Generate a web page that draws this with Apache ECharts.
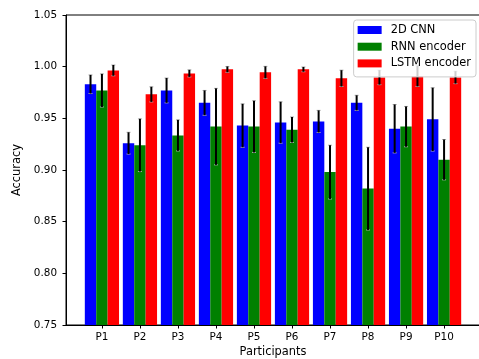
<!DOCTYPE html>
<html>
<head>
<meta charset="utf-8">
<script src="https://cdn.jsdelivr.net/npm/echarts@6/dist/echarts.min.js"></script>
<style>html,body{margin:0;padding:0;background:#fff}#c{width:479px;height:359px}</style>
</head>
<body>
<div id="c"></div>
<script>
const categories = ['P1','P2','P3','P4','P5','P6','P7','P8','P9','P10'];
const cnn     = [0.983, 0.926, 0.977, 0.965, 0.943, 0.946, 0.947, 0.965, 0.940, 0.949];
const cnnErr  = [0.009, 0.0105, 0.012, 0.012, 0.021, 0.020, 0.0107, 0.0073, 0.0234, 0.0306];
const rnn     = [0.977, 0.924, 0.9335, 0.942, 0.942, 0.939, 0.898, 0.882, 0.942, 0.910];
const rnnErr  = [0.016, 0.0255, 0.015, 0.037, 0.025, 0.0123, 0.026, 0.040, 0.0195, 0.0195];
const lstm    = [0.9964, 0.9732, 0.9935, 0.9974, 0.9945, 0.9974, 0.9887, 0.9896, 0.9909, 0.9896];
const lstmErr = [0.0052, 0.0073, 0.0034, 0.0028, 0.0058, 0.0023, 0.0079, 0.007, 0.010, 0.006];
const yTicks = [0.75, 0.80, 0.85, 0.90, 0.95, 1.00, 1.05];

const YMIN = 0.75, YMAX = 1.05;
const BW = 0.3;

function makeSeries(name, vals, errs, offset, color) {
  return {
    type: 'custom',
    name: name,
    itemStyle: { color: color },
    clip: true,
    data: vals.map((v, i) => [i, v, errs[i]]),
    encode: { x: 0, y: 1 },
    renderItem: function (params, api) {
      const x = api.value(0) + offset, v = api.value(1), e = api.value(2);
      const p1 = api.coord([x - BW / 2, v]);
      const p2 = api.coord([x + BW / 2, YMIN]);
      const t = api.coord([x, v + e]);
      const b = api.coord([x, v - e]);
      return {
        type: 'group',
        children: [
          { type: 'rect', shape: { x: p1[0], y: p1[1], width: p2[0] - p1[0], height: p2[1] - p1[1] }, style: { fill: color } },
          { type: 'rect', shape: { x: t[0] - 2, y: t[1] - 0.5, width: 4, height: 1 }, style: { fill: '#aaa' } },
          { type: 'rect', shape: { x: b[0] - 2, y: b[1] - 0.5, width: 4, height: 1 }, style: { fill: '#aaa' } },
          { type: 'rect', shape: { x: t[0] - 1, y: t[1], width: 2, height: b[1] - t[1] }, style: { fill: '#000' } }
        ]
      };
    }
  };
}

const chart = echarts.init(document.getElementById('c'), null, { renderer: 'canvas' });
const font = 'DejaVu Sans';
chart.setOption({
  animation: false,
  backgroundColor: '#fff',
  grid: { left: 66, top: 15, right: -1, bottom: 34, outerBoundsMode: 'none', containLabel: false, show: true, borderColor: '#000', borderWidth: 1, backgroundColor: 'transparent' },
  legend: {
    orient: 'vertical',
    right: 3,
    top: 20,
    align: 'left',
    padding: [3.5, 5, 7, 4],
    itemWidth: 24,
    itemHeight: 8,
    itemGap: 3.7,
    icon: 'rect',
    backgroundColor: 'rgba(255,255,255,0.8)',
    borderColor: '#ccc',
    borderWidth: 1,
    borderRadius: 3,
    textStyle: { fontFamily: font, fontSize: 11.4, color: '#000', lineHeight: 13, padding: [0, 0, 0, 4] },
    data: [
      { name: '2D CNN', itemStyle: { color: '#0000ff' } },
      { name: 'RNN encoder', itemStyle: { color: '#008000' } },
      { name: 'LSTM encoder', itemStyle: { color: '#ff0000' } }
    ]
  },
  xAxis: {
    type: 'value',
    min: -0.945,
    max: 9.945,
    name: 'Participants',
    nameLocation: 'middle',
    nameGap: 21,
    nameTextStyle: { fontFamily: font, fontSize: 11.4, color: '#000' },
    splitLine: { show: false },
    axisLine: { show: true, onZero: false, lineStyle: { color: '#000', width: 1 } },
    axisTick: { show: true, length: 3.5, lineStyle: { color: '#000' }, customValues: categories.map((c, i) => i) },
    axisLabel: {
      fontFamily: font, fontSize: 10.4, color: '#000', margin: 7,
      customValues: categories.map((c, i) => i),
      formatter: v => categories[Math.round(v)]
    }
  },
  yAxis: {
    type: 'value',
    min: YMIN,
    max: YMAX,
    interval: 0.05,
    name: 'Accuracy',
    nameLocation: 'middle',
    nameGap: 36,
    nameRotate: 90,
    nameTextStyle: { fontFamily: font, fontSize: 11.4, color: '#000' },
    splitLine: { show: false },
    axisLine: { show: true, onZero: false, lineStyle: { color: '#000', width: 1 } },
    axisTick: { show: true, length: 3.5, lineStyle: { color: '#000' }, customValues: yTicks },
    axisLabel: { fontFamily: font, fontSize: 10.4, color: '#000', margin: 9, customValues: yTicks, formatter: v => v.toFixed(2) }
  },
  series: [
    makeSeries('2D CNN', cnn, cnnErr, -0.3, '#0000ff'),
    makeSeries('RNN encoder', rnn, rnnErr, 0, '#008000'),
    makeSeries('LSTM encoder', lstm, lstmErr, 0.3, '#ff0000')
  ]
});
</script>
</body>
</html>
